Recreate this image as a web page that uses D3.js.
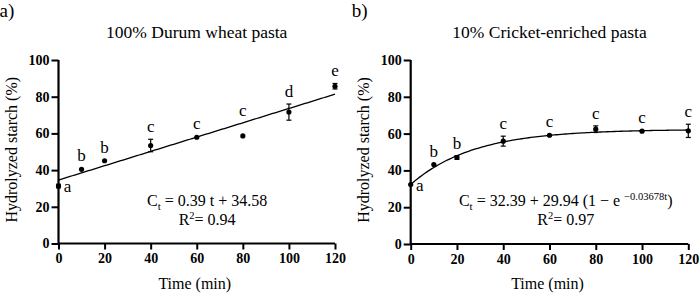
<!DOCTYPE html>
<html>
<head>
<meta charset="utf-8">
<script src="https://cdn.jsdelivr.net/npm/d3@7"></script>
<style>
  html, body { margin: 0; padding: 0; background: #fff; }
  svg { display: block; }
</style>
</head>
<body>
<svg id="chart" width="700" height="293"></svg>
<script>
// sampling times (min)
const times = [0, 10, 20, 40, 60, 80, 100, 120];
const xTicks = [0, 20, 40, 60, 80, 100, 120];
const yTicks = [0, 20, 40, 60, 80, 100];

// 100% durum wheat pasta
const durumMean = [31.3, 40.4, 45.1, 53.4, 57.9, 58.6, 71.6, 85.7];
const durumErr = [1.0, 0.5, 0.5, 3.4, 0.5, 0.5, 4.4, 1.5];
const durumLetters = ["a", "b", "b", "c", "c", "c", "d", "e"];
const durumFit = [0.39, 34.58]; // slope, intercept

// 10% cricket-enriched pasta
const cricketMean = [32.3, 43.2, 47.0, 55.9, 59.1, 62.4, 61.3, 61.5];
const cricketErr = [0.5, 0.5, 1.0, 2.7, 0.5, 1.8, 0.5, 3.6];
const cricketLetters = ["a", "b", "b", "c", "c", "c", "c", "c"];
const cricketFit = [32.39, 29.94, 0.03678]; // C0, A, k

const FONT = "'Liberation Serif', 'Times New Roman', serif";

const svg = d3.select("#chart");
svg.append("rect").attr("width", 700).attr("height", 293).attr("fill", "#fff");

function Panel(config) {
    var g, x, y;
    const xr = config.xr, yr = config.yr;

    function panel() {
        g = svg.append("g");
        x = d3.scaleLinear().domain([0, 120]).range(xr);
        y = d3.scaleLinear().domain([0, 100]).range(yr);
        drawAxes();
        drawFit();
        drawPoints();
        drawText();
        g.selectAll("text").style("font-family", FONT).attr("fill", "#000");
    }

    const drawAxes = () => {
        const xa = g.append("g")
            .attr("transform", "translate(0," + yr[0] + ")")
            .call(d3.axisBottom(x).tickValues(xTicks).tickSize(6).tickPadding(4));
        const ya = g.append("g")
            .attr("transform", "translate(" + xr[0] + ",0)")
            .call(d3.axisLeft(y).tickValues(yTicks).tickSize(7).tickPadding(2));
        [xa, ya].forEach(a => {
            a.select(".domain").attr("stroke", "#000").attr("stroke-width", 2.2)
            a.selectAll(".tick line").attr("stroke", "#000").attr("stroke-width", 2)
            a.selectAll(".tick text")
                .style("font-size", "14px")
                .style("font-weight", "bold")
        })
        ya.select(".domain").attr("d", "M0," + yr[0] + "V" + yr[1])
        xa.select(".domain").attr("d", "M" + xr[0] + ",0H" + xr[1])

        g.append("text")
            .attr("x", (xr[0] + xr[1]) / 2 - 2)
            .attr("y", yr[0] + 45)
            .attr("text-anchor", "middle")
            .style("font-size", "16px")
            .text("Time (min)")
        g.append("text")
            .attr("transform", "translate(" + (xr[0] - 42) + "," + ((yr[0] + yr[1]) / 2 - 2) + ") rotate(-90)")
            .attr("text-anchor", "middle")
            .style("font-size", "16px")
            .text("Hydrolyzed starch (%)")
        g.append("text")
            .attr("x", (xr[0] + xr[1]) / 2)
            .attr("y", 38)
            .attr("text-anchor", "middle")
            .style("font-size", "17.5px")
            .text(config.title)
        g.append("text")
            .attr("x", xr[0] - 59)
            .attr("y", 17)
            .style("font-size", "19px")
            .text(config.tag)
    }

    const drawFit = () => {
        const ts = d3.range(0, 120.5, 1)
        const line = d3.line().x(t => x(t)).y(t => y(config.fit(t)))
        g.append("path")
            .attr("d", line(ts))
            .attr("fill", "none")
            .attr("stroke", "#000")
            .attr("stroke-width", 1.3)
    }

    const drawPoints = () => {
        const pts = times.map((t, i) => ({t: t, m: config.mean[i], e: config.err[i], l: config.letters[i]}))
        const pg = g.selectAll(".pt").data(pts).enter().append("g").attr("class", "pt")
        pg.append("line")
            .attr("x1", d => x(d.t)).attr("x2", d => x(d.t))
            .attr("y1", d => y(d.m - d.e)).attr("y2", d => y(d.m + d.e))
            .attr("stroke", "#000").attr("stroke-width", 1.2)
        ;[-1, 1].forEach(s => {
            pg.append("line")
                .attr("x1", d => x(d.t) - 2.5).attr("x2", d => x(d.t) + 2.5)
                .attr("y1", d => y(d.m + s * d.e)).attr("y2", d => y(d.m + s * d.e))
                .attr("stroke", "#000").attr("stroke-width", 1.2)
                .attr("opacity", d => d.e > 0.8 ? 1 : 0)
        })
        pg.append("circle")
            .attr("cx", d => x(d.t)).attr("cy", d => y(d.m))
            .attr("r", 2.6).attr("fill", "#000")

        // significance letters, above the error bar or fit line
        pg.append("text")
            .attr("x", (d, i) => i === 0 ? x(d.t) + 9 : x(d.t))
            .attr("y", (d, i) => {
                if (i === 0) return y(d.m) + 6
                const top = Math.min(y(d.m + d.e), y(config.fit(d.t)))
                return top - 7
            })
            .attr("text-anchor", "middle")
            .style("font-size", "17px")
            .text(d => d.l)
    }

    const drawText = () => {
        const cx = x(config.eqX)
        const eq = g.append("text")
            .attr("x", cx)
            .attr("y", y(20.5))
            .attr("text-anchor", "middle")
            .style("font-size", "16px")
        eq.append("tspan").text("C")
        eq.append("tspan").attr("dy", 4).style("font-size", "11px").text("t")
        eq.append("tspan").attr("dy", -4).text(config.eq)
        if (config.expo) {
            eq.append("tspan").attr("dy", -6).style("font-size", "10.5px").text(config.expo)
            eq.append("tspan").attr("dy", 6).text(")")
        }
        const r = g.append("text")
            .attr("x", cx)
            .attr("y", y(20.5) + 19)
            .attr("text-anchor", "middle")
            .style("font-size", "16px")
        r.append("tspan").text("R")
        r.append("tspan").attr("dy", -6).style("font-size", "10.5px").text("2")
        r.append("tspan").attr("dy", 6).text("= " + config.r2)
    }

    return panel;
}

Panel({
    xr: [58.5, 335], yr: [243.5, 60],
    title: "100% Durum wheat pasta", tag: "a)",
    mean: durumMean, err: durumErr, letters: durumLetters,
    fit: t => durumFit[0] * t + durumFit[1],
    eqX: 64.5, eq: " = 0.39 t + 34.58", r2: "0.94"
})();

Panel({
    xr: [410.7, 688.3], yr: [244, 60],
    title: "10% Cricket-enriched pasta", tag: "b)",
    mean: cricketMean, err: cricketErr, letters: cricketLetters,
    fit: t => cricketFit[0] + cricketFit[1] * (1 - Math.exp(-cricketFit[2] * t)),
    eqX: 67, eq: " = 32.39 + 29.94 (1 \u2212 e ", expo: "\u22120.03678t", r2: "0.97"
})();
</script>
</body>
</html>
